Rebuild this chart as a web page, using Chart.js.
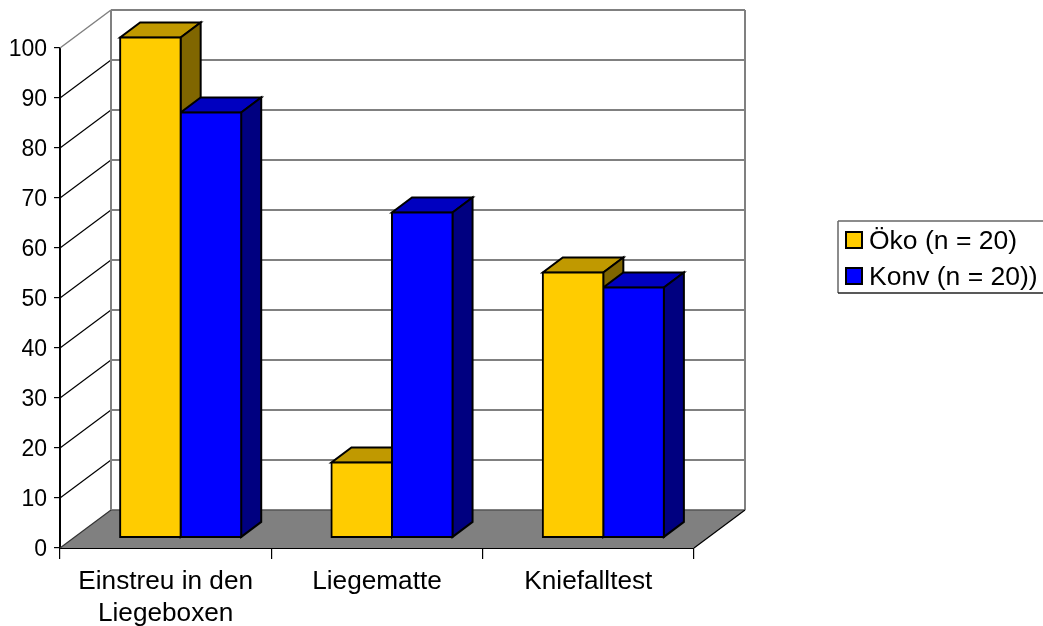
<!DOCTYPE html>
<html>
<head>
<meta charset="utf-8">
<style>
  html, body { margin: 0; padding: 0; background: #fff; overflow: hidden; }
  canvas { display: block; }
</style>
<script src="https://cdn.jsdelivr.net/npm/chart.js@4/dist/chart.umd.js"></script>
</head>
<body>
<canvas id="kuhChart" width="1043" height="626"></canvas>
<script>
const categories = [['Einstreu in den', 'Liegeboxen'], 'Liegematte', 'Kniefalltest'];
const oekoValues = [100, 15, 53];
const konvValues = [85, 65, 50];
const seriesNames = ['Öko (n = 20)', 'Konv (n = 20))'];

// 3D look: wall depth, where the bars stand on the floor, bar depth
const wall = { dx: 51, dy: -38 };
const barShift = { dx: 15, dy: -10.5 };
const barDepth = { dx: 20, dy: -15 };
const fontName = '"Liberation Sans", Arial, sans-serif';

function poly(ctx, pts, fill, stroke, lw) {
  ctx.beginPath();
  pts.forEach((p, i) => i ? ctx.lineTo(p[0], p[1]) : ctx.moveTo(p[0], p[1]));
  ctx.closePath();
  if (fill) { ctx.fillStyle = fill; ctx.fill(); }
  if (stroke) { ctx.strokeStyle = stroke; ctx.lineWidth = lw; ctx.stroke(); }
}

function line(ctx, x1, y1, x2, y2, color, lw) {
  ctx.beginPath();
  ctx.moveTo(x1, y1);
  ctx.lineTo(x2, y2);
  ctx.strokeStyle = color;
  ctx.lineWidth = lw;
  ctx.stroke();
}

function drawWalls(chart) {
  const ctx = chart.ctx;
  const a = chart.chartArea;
  const yScale = chart.scales.y;
  const bx = a.left + wall.dx, rx = a.right + wall.dx;

  poly(ctx, [[a.left, a.bottom], [a.right, a.bottom], [rx, a.bottom + wall.dy], [bx, a.bottom + wall.dy]], '#808080');
  line(ctx, bx, a.bottom + wall.dy, rx, a.bottom + wall.dy, '#555', 1.5);

  yScale.ticks.forEach(t => {
    const y = yScale.getPixelForValue(t.value);
    if (t.value > 0) {
      line(ctx, bx, y + wall.dy, rx, y + wall.dy, '#808080', 2);
      line(ctx, a.left, y, bx, y + wall.dy, t.value === 100 ? '#808080' : '#000', t.value === 100 ? 1.5 : 1.2);
    }
  });
  line(ctx, a.left, a.bottom, bx, a.bottom + wall.dy, '#333', 1.2);
  line(ctx, bx, a.top + wall.dy, bx, a.bottom + wall.dy, '#808080', 2);
  line(ctx, rx, a.top + wall.dy, rx, a.bottom + wall.dy, '#808080', 2);
  line(ctx, a.right, a.bottom, rx, a.bottom + wall.dy, '#000', 1.2);
}

// top and side of every bar, taken from the bar elements the library laid out
function drawBarDepth(chart) {
  const ctx = chart.ctx;
  chart.data.datasets.forEach((ds, i) => {
    chart.getDatasetMeta(i).data.forEach(bar => {
      const l = bar.x - bar.width / 2 + barShift.dx;
      const r = bar.x + bar.width / 2 + barShift.dx;
      const t = bar.y + barShift.dy;
      const b = bar.base + barShift.dy;
      const d = barDepth;
      poly(ctx, [[l, t], [r, t], [r + d.dx, t + d.dy], [l + d.dx, t + d.dy]], ds.topColor, '#000', 2);
      poly(ctx, [[r, t], [r + d.dx, t + d.dy], [r + d.dx, b + d.dy], [r, b]], ds.sideColor, '#000', 2);
    });
  });
}

function drawLegend(chart) {
  const ctx = chart.ctx;
  line(ctx, 838, 221, 1043, 221, '#666', 1.5);
  line(ctx, 838, 221, 838, 293, '#666', 1.5);
  line(ctx, 838, 293, 1043, 293, '#222', 1.5);
  ctx.font = '26.5px ' + fontName;
  ctx.textAlign = 'left';
  ctx.textBaseline = 'middle';
  chart.data.datasets.forEach((ds, i) => {
    const y = 240 + i * 36;
    ctx.fillStyle = ds.backgroundColor;
    ctx.fillRect(846, y - 8, 16, 16);
    ctx.strokeStyle = '#000';
    ctx.lineWidth = 2;
    ctx.strokeRect(846, y - 8, 16, 16);
    ctx.fillStyle = '#000';
    ctx.fillText(ds.label, 869, y + 2);
  });
}

const bars3d = {
  id: 'bars3d',
  beforeDatasetsDraw(chart) {
    drawWalls(chart);
    drawBarDepth(chart);
    chart.ctx.save();
    chart.ctx.translate(barShift.dx, barShift.dy);
  },
  afterDatasetsDraw(chart) {
    chart.ctx.restore();
  },
  afterDraw: drawLegend
};

new Chart(document.getElementById('kuhChart'), {
  type: 'bar',
  data: {
    labels: categories,
    datasets: [
      { label: seriesNames[0], data: oekoValues, backgroundColor: '#ffcc00', topColor: '#c09900', sideColor: '#806600' },
      { label: seriesNames[1], data: konvValues, backgroundColor: '#0000ff', topColor: '#0000c0', sideColor: '#000080' }
    ]
  },
  options: {
    responsive: false,
    animation: false,
    layout: { padding: { top: 48, right: 349, left: 0, bottom: 0 } },
    datasets: {
      bar: {
        categoryPercentage: 0.573,
        barPercentage: 1,
        borderColor: '#000',
        borderWidth: 2,
        borderSkipped: false,
        inflateAmount: 1,
        clip: false
      }
    },
    plugins: {
      legend: { display: false },
      tooltip: { enabled: false }
    },
    scales: {
      x: {
        grid: { drawOnChartArea: false, color: '#000', lineWidth: 1.2, tickLength: 11 },
        border: { color: '#000', width: 2 },
        ticks: { color: '#000', padding: 7, maxRotation: 0, font: { family: fontName, size: 26.2, lineHeight: 1.21 } },
        afterFit(scale) { scale.height = 78; }
      },
      y: {
        min: 0,
        max: 100,
        grid: { drawOnChartArea: false, color: '#000', lineWidth: 1.2, tickLength: 6 },
        border: { color: '#000', width: 2 },
        ticks: { stepSize: 10, color: '#000', padding: 7, labelOffset: 1.5, font: { family: fontName, size: 23 } },
        afterFit(scale) { scale.width = 60; }
      }
    }
  },
  plugins: [bars3d]
});
</script>
</body>
</html>
